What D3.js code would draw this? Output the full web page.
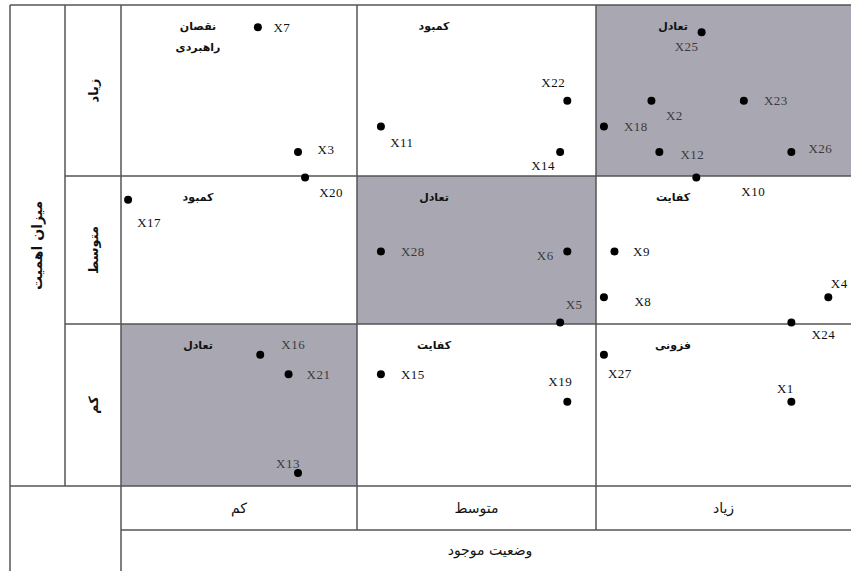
<!DOCTYPE html>
<html>
<head>
<meta charset="utf-8">
<script src="https://cdn.jsdelivr.net/npm/d3@7"></script>
<style>
  body { margin: 0; background: #fff; }
  svg { display: block; }
</style>
</head>
<body>
<svg id="chart" width="851" height="571"></svg>
<script>
// levels, bottom to top / left to right
var levels = ["کم", "متوسط", "زیاد"];
var xTitle = "وضعیت موجود";
var yTitle = "میزان اهمیت";

// cell names [row][col], row 0 = کم
var cellNames = [
    ["تعادل", "کفایت", "فزونی"],
    ["کمبود", "تعادل", "کفایت"],
    ["نقصان\nراهبردی", "کمبود", "تعادل"]
];
var shaded = [[0, 0], [1, 1], [2, 2]];

var names = ["X1", "X2", "X3", "X4", "X5", "X6", "X7", "X8", "X9", "X10",
             "X11", "X12", "X13", "X14", "X15", "X16", "X17", "X18", "X19", "X20",
             "X21", "X22", "X23", "X24", "X25", "X26", "X27", "X28"];
var currentState = [2.74, 2.21, 0.75, 2.88, 1.85, 1.88, 0.58, 2.03, 2.07, 2.38,
                    1.10, 2.24, 0.75, 1.85, 1.10, 0.59, 0.03, 2.03, 1.88, 0.78,
                    0.71, 1.88, 2.56, 2.74, 2.40, 2.74, 2.03, 1.10];
var importance = [0.52, 2.44, 2.14, 1.18, 1.01, 1.49, 2.87, 1.18, 1.49, 1.99,
                  2.29, 2.14, 0.08, 2.14, 0.69, 0.81, 1.84, 2.29, 0.52, 1.99,
                  0.69, 2.44, 2.44, 1.01, 2.84, 2.14, 0.81, 1.49];

// where each label sits relative to its dot
var labelOffset = {
    X1: [-6, -13], X2: [23, 15], X3: [28, -3], X4: [11, -14], X5: [14, -18],
    X6: [-22, 4], X7: [24, 0], X8: [39, 4], X9: [27, 0], X10: [57, 14],
    X11: [21, 16], X12: [33, 2], X13: [-10, -10], X14: [-17, 13], X15: [32, 0],
    X16: [33, -10], X17: [21, 23], X18: [32, 0], X19: [-7, -20], X20: [26, 15],
    X21: [30, 0], X22: [-14, -18], X23: [32, 0], X24: [32, 12], X25: [-15, 14],
    X26: [29, -4], X27: [16, 19], X28: [32, 0]
};

var points = names.map(function (n, i) {
    return { name: n, x: currentState[i], y: importance[i] };
});

var svg = d3.select("#chart");
var line = "#555";
var arabic = "'DejaVu Sans', sans-serif";

var x = d3.scaleLinear().domain([0, 1, 2, 3]).range([121, 357, 596, 860]);
var y = d3.scaleLinear().domain([0, 1, 2, 3]).range([486, 324, 176, 5]);

function inCell(c, r) {
    return shaded.some(function (s) { return s[0] === c && s[1] === r; });
}

// shaded cells
svg.append("g").selectAll("rect")
    .data(shaded)
  .enter().append("rect")
    .attr("x", function (d) { return x(d[0]); })
    .attr("y", function (d) { return y(d[1] + 1); })
    .attr("width", function (d) { return x(d[0] + 1) - x(d[0]); })
    .attr("height", function (d) { return y(d[1]) - y(d[1] + 1); })
    .attr("fill", "#a9a8b2");

// grid lines
var g = svg.append("g").attr("stroke", line).attr("stroke-width", 1.5);
function hline(yy, x1, x2) {
    g.append("line").attr("x1", x1).attr("x2", x2).attr("y1", yy).attr("y2", yy);
}
function vline(xx, y1, y2) {
    g.append("line").attr("x1", xx).attr("x2", xx).attr("y1", y1).attr("y2", y2);
}
hline(y(3), 10, 860);
hline(y(2), 65, 860);
hline(y(1), 65, 860);
hline(y(0), 10, 860);
hline(530, 121, 860);
vline(10, y(3), 571);
vline(65, y(3), y(0));
vline(x(0), y(3), 571);
vline(x(1), y(3), 530);
vline(x(2), y(3), 530);

// cell names
var cells = [];
cellNames.forEach(function (row, r) {
    row.forEach(function (txt, c) { cells.push({ r: r, c: c, txt: txt }); });
});
svg.append("g").selectAll("text")
    .data(cells)
  .enter().append("text")
    .attr("x", function (d) { return x(d.c) + 77; })
    .attr("y", function (d) { return y(d.r + 1) + 25; })
    .attr("text-anchor", "middle")
    .attr("font-family", arabic)
    .attr("font-weight", "bold")
    .attr("font-size", 11)
    .attr("fill", "#111")
    .each(function (d) {
        var t = d3.select(this);
        d.txt.split("\n").forEach(function (s, i) {
            t.append("tspan").attr("x", x(d.c) + 77).attr("dy", i ? 21 : 0).text(s);
        });
    });

// dots
svg.append("g").selectAll("circle")
    .data(points)
  .enter().append("circle")
    .attr("cx", function (d) { return x(d.x); })
    .attr("cy", function (d) { return y(d.y); })
    .attr("r", 4)
    .attr("fill", "#000");

// dot labels
svg.append("g").selectAll("text")
    .data(points)
  .enter().append("text")
    .attr("x", function (d) { return x(d.x) + labelOffset[d.name][0]; })
    .attr("y", function (d) { return y(d.y) + labelOffset[d.name][1]; })
    .attr("dy", "0.35em")
    .attr("text-anchor", "middle")
    .attr("font-family", "'Liberation Serif', serif")
    .attr("font-size", 13)
    .attr("letter-spacing", 0.5)
    .attr("fill", function (d) {
        return inCell(Math.floor(d.x), Math.floor(d.y)) ? "#3a3a40" : "#111";
    })
    .text(function (d) { return d.name; });

// x level labels
svg.append("g").selectAll("text")
    .data(levels)
  .enter().append("text")
    .attr("x", function (d, i) { return (x(i) + Math.min(x(i + 1), 851)) / 2; })
    .attr("y", 508)
    .attr("dy", "0.35em")
    .attr("text-anchor", "middle")
    .attr("font-family", arabic)
    .attr("font-size", 14)
    .attr("fill", "#111")
    .text(function (d) { return d; });

svg.append("text")
    .attr("x", 490)
    .attr("y", 550)
    .attr("dy", "0.35em")
    .attr("text-anchor", "middle")
    .attr("font-family", arabic)
    .attr("font-size", 14)
    .attr("fill", "#111")
    .text(xTitle);

// y level labels
svg.append("g").selectAll("text")
    .data(levels)
  .enter().append("text")
    .attr("transform", function (d, i) {
        return "translate(93," + (y(i) + y(i + 1)) / 2 + ") rotate(-90)";
    })
    .attr("dy", "0.35em")
    .attr("text-anchor", "middle")
    .attr("font-family", arabic)
    .attr("font-weight", "bold")
    .attr("font-size", 13)
    .attr("fill", "#111")
    .text(function (d) { return d; });

svg.append("text")
    .attr("transform", "translate(37," + (y(0) + y(3)) / 2 + ") rotate(-90)")
    .attr("dy", "0.35em")
    .attr("text-anchor", "middle")
    .attr("font-family", arabic)
    .attr("font-weight", "bold")
    .attr("font-size", 14)
    .attr("fill", "#111")
    .text(yTitle);
</script>
</body>
</html>
